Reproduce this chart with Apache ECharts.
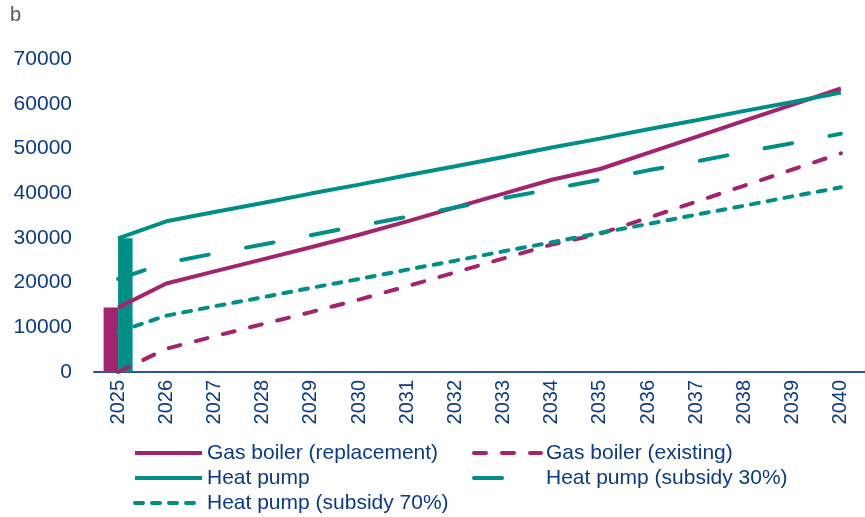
<!DOCTYPE html>
<html>
<head>
<meta charset="utf-8">
<script src="https://cdn.jsdelivr.net/npm/echarts@6/dist/echarts.min.js"></script>
<style>
html,body{margin:0;padding:0;background:#fff;}
#chart{width:865px;height:517px;}
</style>
</head>
<body>
<div id="chart"></div>
<script>
const years = ['2025','2026','2027','2028','2029','2030','2031','2032','2033','2034','2035','2036','2037','2038','2039','2040'];
const gasReplacement = [14400,19800,22500,25200,27900,30700,33700,36800,39900,43000,45400,49000,52600,56200,59800,63400];
const gasExisting = [0,5200,8000,10700,13400,16200,19200,22300,25400,28500,30900,34500,38100,41700,45300,48900];
const heatPump = [29900,33700,35800,37800,39900,41900,44000,46000,48100,50200,52200,54300,56300,58400,60400,62500];
const heatPump30 = [20800,24400,26500,28500,30600,32700,34700,36800,38900,40900,43000,45100,47100,49200,51200,53300];
const heatPump70 = [9000,12600,14700,16700,18800,20800,22900,24900,27000,29000,31100,33100,35200,37200,39300,41300];
const barGas = [14400,null,null,null,null,null,null,null,null,null,null,null,null,null,null,null];
const barHeatPump = [29900,null,null,null,null,null,null,null,null,null,null,null,null,null,null,null];

const MAG = '#A3236C';
const TEAL = '#008F87';
const LBL = '#0B3A8A';
const FONT = '"Liberation Sans", Arial, sans-serif';

const chart = echarts.init(document.getElementById('chart'), null, {renderer:'canvas'});

function lineSeries(name, data, color, dash){
  return {
    name, type:'line', data, symbol:'none', smooth:false, z:5,
    lineStyle:{color, width:4, type: dash || 'solid', cap: dash ? 'round' : 'butt'},
    itemStyle:{color}
  };
}
function legendAt(name, left, top, dash){
  const ls = {width:4};
  if (dash) ls.type = dash;
  return {
    data:[name], left, top, padding:0, orient:'horizontal',
    itemWidth:67, itemHeight:14, itemGap:5,
    itemStyle:{opacity:0},
    lineStyle:ls,
    textStyle:{color:LBL, fontSize:21, fontFamily:FONT, lineHeight:24}
  };
}

chart.setOption({
  animation:false,
  backgroundColor:'#fff',
  textStyle:{fontFamily:FONT},
  graphic:[{type:'text', left:10, top:5, style:{text:'b', fill:'#555', fontSize:20, fontFamily:FONT}}],
  grid:{left:94, right:-9, top:59, bottom:145, containLabel:false},
  legend:[
    legendAt('Gas boiler (replacement)', 133, 441),
    legendAt('Gas boiler (existing)', 472, 441),
    legendAt('Heat pump', 133, 466),
    legendAt('Heat pump (subsidy 30%)', 472, 466, [28,40]),
    legendAt('Heat pump (subsidy 70%)', 133, 491)
  ],
  xAxis:{
    type:'category', data:years, boundaryGap:true,
    axisLine:{show:true, lineStyle:{color:'#2A55A0', width:2}},
    axisTick:{show:false},
    axisLabel:{rotate:90, margin:8, color:LBL, fontSize:20, fontFamily:FONT, interval:0},
    splitLine:{show:false}
  },
  yAxis:{
    type:'value', min:0, max:70000, interval:10000,
    axisLine:{show:false}, axisTick:{show:false}, splitLine:{show:false},
    axisLabel:{margin:22, color:LBL, fontSize:21, fontFamily:FONT, formatter:function(v){return String(v);}}
  },
  series:[
    {name:'barGas', type:'bar', data:barGas, barWidth:14.5, barGap:'0%', itemStyle:{color:MAG}, z:2},
    {name:'barHP', type:'bar', data:barHeatPump, barWidth:14.5, barGap:'0%', itemStyle:{color:TEAL}, z:2},
    lineSeries('Gas boiler (replacement)', gasReplacement, MAG),
    lineSeries('Gas boiler (existing)', gasExisting, MAG, [12,16]),
    lineSeries('Heat pump', heatPump, TEAL),
    lineSeries('Heat pump (subsidy 30%)', heatPump30, TEAL, [28,38]),
    lineSeries('Heat pump (subsidy 70%)', heatPump70, TEAL, [8,9])
  ]
});
</script>
</body>
</html>
